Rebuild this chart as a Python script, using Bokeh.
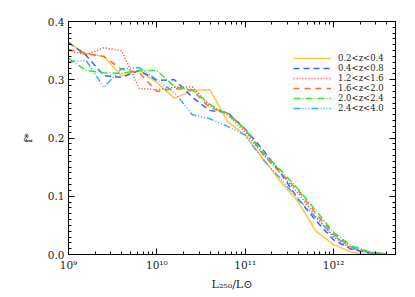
from bokeh.plotting import figure
from bokeh.models import (LinearAxis, LogAxis, FixedTicker, CustomJSTickFormatter,
                          Legend, LegendItem, Range1d)
from bokeh.embed import file_html
from bokeh.resources import INLINE

# ---- data ----
log_lum = [9.0, 9.2, 9.4, 9.6, 9.8, 10.0, 10.2, 10.4, 10.6, 10.8,
           11.0, 11.2, 11.4, 11.6, 11.8, 12.0, 12.2, 12.4, 12.6]
f_z02_04 = [0.363, 0.345, 0.340, 0.307, 0.316, 0.295, 0.268, 0.282, 0.283, 0.228,
            0.205, 0.165, 0.125, 0.090, 0.040, 0.017, 0.004, 0.0, 0.0]
f_z04_08 = [0.364, 0.342, 0.307, 0.304, 0.316, 0.299, 0.300, 0.270, 0.247, 0.244,
            0.215, 0.180, 0.140, 0.095, 0.058, 0.025, 0.009, 0.003, 0.0]
f_z12_16 = [0.350, 0.343, 0.355, 0.350, 0.285, 0.283, 0.287, 0.288, 0.255, 0.240,
            0.210, 0.172, 0.140, 0.105, 0.065, 0.030, 0.010, 0.003, 0.0]
f_z16_20 = [0.352, 0.345, 0.340, 0.318, 0.312, 0.280, 0.285, 0.282, 0.252, 0.243,
            0.215, 0.172, 0.140, 0.110, 0.070, 0.035, 0.013, 0.004, 0.001]
f_z20_24 = [0.337, 0.316, 0.312, 0.311, 0.316, 0.316, 0.288, 0.283, 0.258, 0.240,
            0.215, 0.175, 0.145, 0.112, 0.075, 0.038, 0.015, 0.005, 0.001]
f_z24_40 = [0.331, 0.333, 0.287, 0.319, 0.321, 0.300, 0.278, 0.240, 0.233, 0.220,
            0.205, 0.163, 0.130, 0.095, 0.063, 0.032, 0.012, 0.003, 0.0]
labels = ["0.2<z<0.4", "0.4<z<0.8", "1.2<z<1.6", "1.6<z<2.0", "2.0<z<2.4", "2.4<z<4.0"]
x_tick_exps = [9, 10, 11, 12]
x_tick_labels = ["10⁹", "10¹⁰", "10¹¹", "10¹²"]
y_ticks = [0.0, 0.1, 0.2, 0.3, 0.4]

lum = [10 ** v for v in log_lum]
series = [f_z02_04, f_z04_08, f_z12_16, f_z16_20, f_z20_24, f_z24_40]
colors = ["#ffc83c", "#3366ff", "#ff3333", "#ff6a2a", "#33e633", "#3fa9ff"]
dashes = ["solid", "6 4", "1 2", "6 5", "7 2 1 2", "7 2 1 2 1 2 1 2"]

FONT = "DejaVu Serif"

p = figure(width=413, height=295, x_axis_type="log",
           x_range=Range1d(1e9, 10 ** 12.7), y_range=Range1d(0, 0.4),
           output_backend="svg", toolbar_location=None,
           min_border_left=68, min_border_right=18, min_border_top=21, min_border_bottom=41)
p.grid.visible = False
p.background_fill_color = "white"
p.border_fill_color = "white"
p.outline_line_color = "black"
p.outline_line_width = 1

major_x = [10 ** e for e in x_tick_exps]
minor_x = [m * 10 ** e for e in x_tick_exps for m in range(2, 10) if m * 10 ** e <= 10 ** 12.7]
minor_y = [i / 100 for i in range(0, 41)]

xt = FixedTicker(ticks=major_x, minor_ticks=minor_x)
yt = FixedTicker(ticks=y_ticks, minor_ticks=minor_y)


def style(ax):
    ax.axis_line_color = "black"
    ax.axis_line_width = 1
    ax.major_tick_in = 6
    ax.major_tick_out = 0
    ax.minor_tick_in = 3
    ax.minor_tick_out = 0
    ax.major_tick_line_color = "black"
    ax.minor_tick_line_color = "black"
    ax.major_label_text_font = FONT
    ax.major_label_text_font_size = "10.5px"
    ax.major_label_text_color = "#222222"
    ax.axis_label_text_font = FONT
    ax.axis_label_text_font_size = "11px"
    ax.axis_label_text_font_style = "normal"
    ax.axis_label_text_color = "#222222"


xa = p.xaxis[0]
xa.ticker = xt
xa.major_label_overrides = {t: s for t, s in zip(major_x, x_tick_labels)}
xa.axis_label = "L₂₅₀/L⊙"
style(xa)
xa.major_label_standoff = 4
xa.axis_label_standoff = 4

ya = p.yaxis[0]
ya.ticker = yt
ya.major_label_overrides = {t: f"{t:.1f}" for t in y_ticks}
ya.axis_label = "f*"
style(ya)
ya.major_label_standoff = 4
ya.axis_label_standoff = 10

blank = CustomJSTickFormatter(code="return ''")
top = LogAxis(ticker=xt, formatter=blank)
style(top)
top.major_label_standoff = 0
p.add_layout(top, "above")
right = LinearAxis(ticker=yt, formatter=blank)
style(right)
right.major_label_standoff = 0
p.add_layout(right, "right")

items = []
for lab, ys, c, d in zip(labels, series, colors, dashes):
    r = p.line(lum, ys, line_color=c, line_width=1.5, line_dash=d)
    items.append(LegendItem(label=lab, renderers=[r]))

leg = Legend(items=items, location=(225, 141))
leg.padding = 0
leg.margin = 0
leg.spacing = 0
leg.glyph_width = 38
leg.glyph_height = 10
leg.label_height = 10
leg.label_standoff = 7
leg.label_text_font = FONT
leg.label_text_font_size = "8.5px"
leg.label_text_color = "#222222"
leg.border_line_color = None
leg.background_fill_alpha = 0
p.add_layout(leg, "center")

open("out.html", "w").write(file_html(p, INLINE))
